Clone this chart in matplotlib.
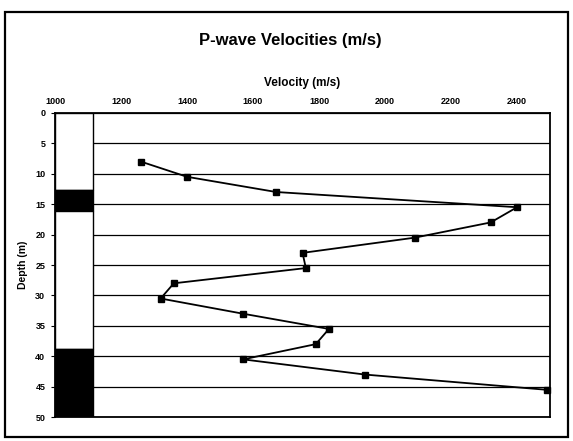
import matplotlib
matplotlib.use("Agg")
import matplotlib.pyplot as plt
from matplotlib.patches import Rectangle

# donnees
depth = [8, 10.5, 13, 15.5, 18, 20.5, 23, 25.5, 28, 30.5, 33, 35.5, 38, 40.5, 43, 45.5]
velocity = [1260, 1400, 1670, 2400, 2320, 2090, 1750, 1760, 1360, 1320,
            1570, 1830, 1790, 1570, 1940, 2490]

# colonne lithologique (haut, bas, couleur)
layer_top = [0, 12.6, 16.1, 38.8]
layer_bottom = [12.6, 16.1, 38.8, 50]
layer_color = ["white", "black", "white", "black"]
column_left = 1000
column_width = 115

x_ticks = [1000, 1200, 1400, 1600, 1800, 2000, 2200, 2400]
y_ticks = [0, 5, 10, 15, 20, 25, 30, 35, 40, 45, 50]

plt.rcParams["font.family"] = ["Liberation Sans", "DejaVu Sans"]

fig = plt.figure(figsize=(5.73, 4.41), dpi=100)
ax = fig.add_axes([0.096, 0.054, 0.864, 0.690])

# cadre autour de la figure
fig.patches.append(Rectangle((0.009, 0.009), 0.982, 0.963, transform=fig.transFigure,
                             fill=False, edgecolor="black", linewidth=1.6))

# colonne a gauche
for top, bot, col in zip(layer_top, layer_bottom, layer_color):
    ax.barh(top, column_width, height=bot - top, left=column_left, align="edge",
            color=col, edgecolor="black", linewidth=1.0, zorder=3)

ax.plot(velocity, depth, color="black", linewidth=1.3, marker="s",
        markersize=4.5, zorder=4, clip_on=False)

ax.set_xlim(1000, 2500)
ax.set_ylim(50, 0)
ax.xaxis.tick_top()
ax.xaxis.set_label_position("top")
ax.set_xticks(x_ticks)
ax.set_yticks(y_ticks)
ax.tick_params(axis="x", length=0, labelsize=6.5, pad=5)
ax.tick_params(axis="y", length=3, width=0.8, labelsize=6.5, pad=4)
for lab in ax.get_xticklabels() + ax.get_yticklabels():
    lab.set_fontweight("bold")

ax.yaxis.grid(True, color="black", linewidth=0.9)
ax.set_axisbelow(True)
for s in ax.spines.values():
    s.set_linewidth(1.3)

ax.set_xlabel("Velocity (m/s)", fontsize=8.5, fontweight="bold", labelpad=8)
ax.set_ylabel("Depth (m)", fontsize=7.5, fontweight="bold", labelpad=5)
fig.text(0.506, 0.909, "P-wave Velocities (m/s)", ha="center", va="center",
         fontsize=12, fontweight="bold")

fig.savefig("out.png", dpi=100)
